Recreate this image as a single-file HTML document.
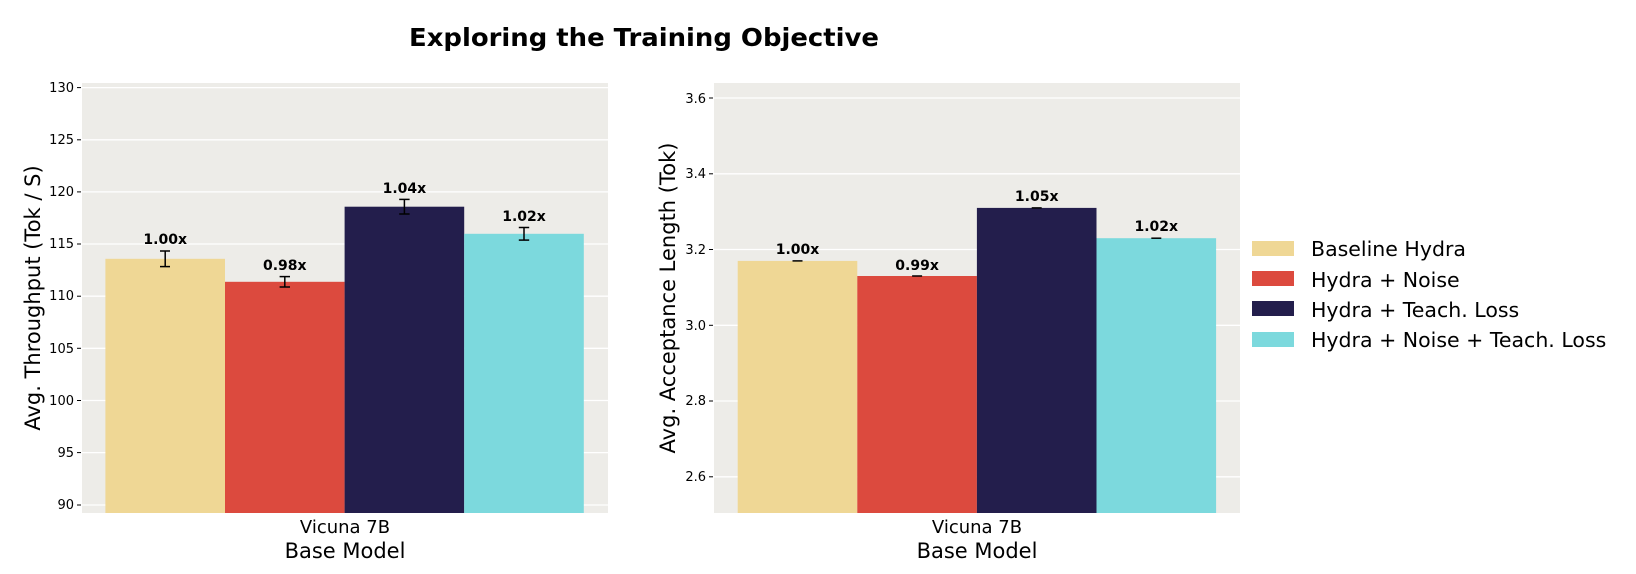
<!DOCTYPE html>
<html><head><meta charset="utf-8"><style>
html,body{margin:0;padding:0;background:#fff;}
svg{display:block;}
text{font-family:"DejaVu Sans","Liberation Sans",sans-serif;fill:#000;}
.tk{font-size:13px;}
.bl{font-size:14px;font-weight:bold;}
</style></head><body>
<svg width="1636" height="574" viewBox="0 0 1636 574" xmlns="http://www.w3.org/2000/svg">
<rect width="1636" height="574" fill="#fff"/>
<text x="644" y="46" text-anchor="middle" font-size="25" font-weight="bold" textLength="470" lengthAdjust="spacingAndGlyphs">Exploring the Training Objective</text>

<!-- Left axes -->
<rect x="82" y="83" width="526" height="430" fill="#EDECE8"/>
<g stroke="#fff" stroke-width="1.3">
<line x1="82" x2="608" y1="87.6" y2="87.6"/><line x1="82" x2="608" y1="139.8" y2="139.8"/>
<line x1="82" x2="608" y1="191.9" y2="191.9"/><line x1="82" x2="608" y1="244" y2="244"/>
<line x1="82" x2="608" y1="296.2" y2="296.2"/><line x1="82" x2="608" y1="348.3" y2="348.3"/>
<line x1="82" x2="608" y1="400.5" y2="400.5"/><line x1="82" x2="608" y1="452.6" y2="452.6"/>
<line x1="82" x2="608" y1="505" y2="505"/>
</g>
<g stroke="#000" stroke-width="1">
<line x1="77" x2="81" y1="87.6" y2="87.6"/><line x1="77" x2="81" y1="139.8" y2="139.8"/>
<line x1="77" x2="81" y1="191.9" y2="191.9"/><line x1="77" x2="81" y1="244" y2="244"/>
<line x1="77" x2="81" y1="296.2" y2="296.2"/><line x1="77" x2="81" y1="348.3" y2="348.3"/>
<line x1="77" x2="81" y1="400.5" y2="400.5"/><line x1="77" x2="81" y1="452.6" y2="452.6"/>
<line x1="77" x2="81" y1="505" y2="505"/>
</g>
<g class="tk" text-anchor="end">
<text x="74" y="92">130</text><text x="74" y="144">125</text><text x="74" y="196">120</text>
<text x="74" y="248">115</text><text x="74" y="300">110</text><text x="74" y="353">105</text>
<text x="74" y="405">100</text><text x="74" y="457">95</text><text x="74" y="509">90</text>
</g>
<rect x="105.4" y="258.8" width="119.6" height="254.2" fill="#EFD795"/>
<rect x="225" y="281.8" width="119.6" height="231.2" fill="#DC4A3E"/>
<rect x="344.6" y="206.7" width="119.6" height="306.3" fill="#231E4C"/>
<rect x="464.2" y="233.8" width="119.6" height="279.2" fill="#7CD9DD"/>
<g stroke="#000" stroke-width="1.5">
<line x1="165.2" x2="165.2" y1="251" y2="266.6"/><line x1="160" x2="170" y1="251" y2="251"/><line x1="160" x2="170" y1="266.6" y2="266.6"/>
<line x1="284.8" x2="284.8" y1="276.6" y2="287"/><line x1="279.6" x2="290" y1="276.6" y2="276.6"/><line x1="279.6" x2="290" y1="287" y2="287"/>
<line x1="404.4" x2="404.4" y1="199.4" y2="214"/><line x1="399.2" x2="409.6" y1="199.4" y2="199.4"/><line x1="399.2" x2="409.6" y1="214" y2="214"/>
<line x1="524" x2="524" y1="227.5" y2="240.1"/><line x1="518.8" x2="529.2" y1="227.5" y2="227.5"/><line x1="518.8" x2="529.2" y1="240.1" y2="240.1"/>
</g>
<g class="bl" text-anchor="middle">
<text x="165.2" y="244">1.00x</text><text x="284.8" y="270">0.98x</text>
<text x="404.4" y="193">1.04x</text><text x="524" y="221">1.02x</text>
</g>
<text x="345" y="533" text-anchor="middle" font-size="18">Vicuna 7B</text>
<text x="345" y="558" text-anchor="middle" font-size="21">Base Model</text>
<text transform="translate(40,298) rotate(-90)" text-anchor="middle" font-size="21">Avg. Throughput (Tok / S)</text>

<!-- Right axes -->
<rect x="714" y="83" width="526" height="430" fill="#EDECE8"/>
<g stroke="#fff" stroke-width="1.3">
<line x1="714" x2="1240" y1="98" y2="98"/><line x1="714" x2="1240" y1="173.8" y2="173.8"/>
<line x1="714" x2="1240" y1="249.5" y2="249.5"/><line x1="714" x2="1240" y1="325.3" y2="325.3"/>
<line x1="714" x2="1240" y1="401" y2="401"/><line x1="714" x2="1240" y1="476.8" y2="476.8"/>
</g>
<g stroke="#000" stroke-width="1">
<line x1="709" x2="713" y1="98" y2="98"/><line x1="709" x2="713" y1="173.8" y2="173.8"/>
<line x1="709" x2="713" y1="249.5" y2="249.5"/><line x1="709" x2="713" y1="325.3" y2="325.3"/>
<line x1="709" x2="713" y1="401" y2="401"/><line x1="709" x2="713" y1="476.8" y2="476.8"/>
</g>
<g class="tk" text-anchor="end">
<text x="706" y="103">3.6</text><text x="706" y="178">3.4</text><text x="706" y="254">3.2</text>
<text x="706" y="330">3.0</text><text x="706" y="405">2.8</text><text x="706" y="481">2.6</text>
</g>
<rect x="737.7" y="260.9" width="119.6" height="252.1" fill="#EFD795"/>
<rect x="857.3" y="276" width="119.6" height="237" fill="#DC4A3E"/>
<rect x="976.9" y="207.9" width="119.6" height="305.1" fill="#231E4C"/>
<rect x="1096.5" y="238.2" width="119.6" height="274.8" fill="#7CD9DD"/>
<g stroke="#000" stroke-width="1.5">
<line x1="792.5" x2="802.5" y1="260.9" y2="260.9"/><line x1="912.1" x2="922.1" y1="276" y2="276"/>
<line x1="1031.7" x2="1041.7" y1="207.9" y2="207.9"/><line x1="1151.3" x2="1161.3" y1="238.2" y2="238.2"/>
</g>
<g class="bl" text-anchor="middle">
<text x="797.5" y="254">1.00x</text><text x="917.1" y="270">0.99x</text>
<text x="1036.7" y="201">1.05x</text><text x="1156.3" y="231">1.02x</text>
</g>
<text x="977" y="533" text-anchor="middle" font-size="18">Vicuna 7B</text>
<text x="977" y="558" text-anchor="middle" font-size="21">Base Model</text>
<text transform="translate(675,298) rotate(-90)" text-anchor="middle" font-size="21">Avg. Acceptance Length (Tok)</text>

<!-- Legend -->
<rect x="1252" y="241" width="42" height="15" fill="#EFD795"/>
<rect x="1252" y="271" width="42" height="15" fill="#DC4A3E"/>
<rect x="1252" y="301" width="42" height="15" fill="#231E4C"/>
<rect x="1252" y="332" width="42" height="15" fill="#7CD9DD"/>
<g font-size="20.5">
<text x="1311" y="256">Baseline Hydra</text>
<text x="1311" y="287">Hydra + Noise</text>
<text x="1311" y="317">Hydra + Teach. Loss</text>
<text x="1311" y="347">Hydra + Noise + Teach. Loss</text>
</g>
</svg>
</body></html>
